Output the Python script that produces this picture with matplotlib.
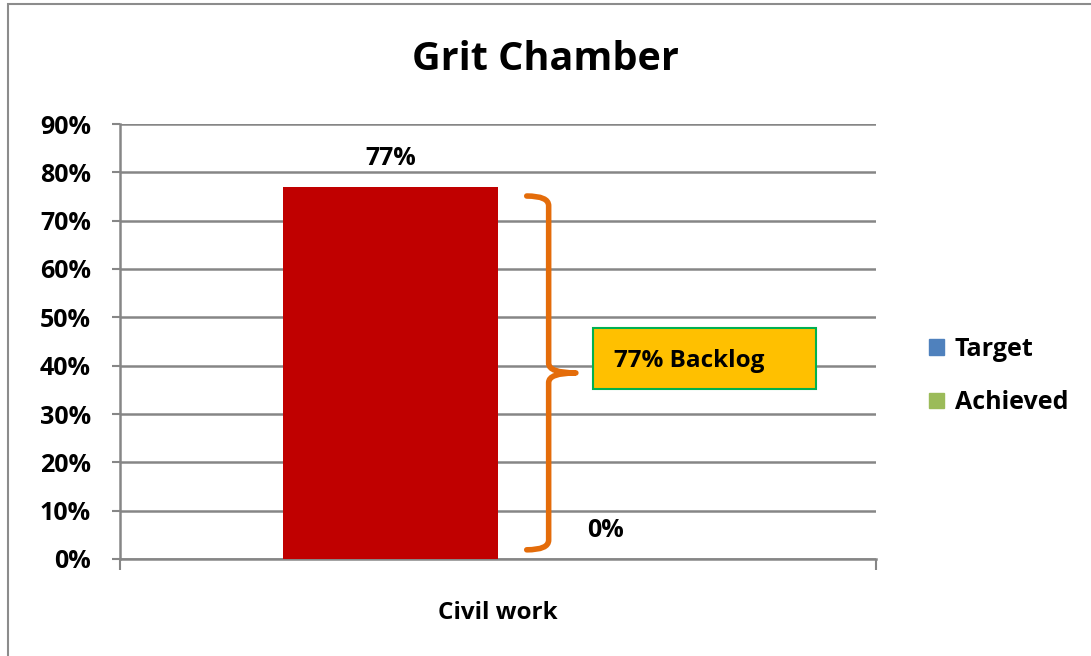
import numpy as np
import matplotlib.pyplot as plt
from matplotlib.patches import Rectangle, PathPatch
from matplotlib.path import Path

plt.rcParams['font.family'] = ['Open Sans', 'DejaVu Sans']
plt.rcParams['font.weight'] = 'bold'

title = "Grit Chamber"
categories = ["Civil work"]
series_names = ["Target", "Achieved"]
target = [0.77]
achieved = [0.0]
backlog_text = "77% Backlog"

bar_colors = ["#C00000", "#9BBB59"]
legend_colors = ["#4F81BD", "#9BBB59"]
grid_color = "#868686"

fig = plt.figure(figsize=(10.91, 6.56), dpi=100)
ax = fig.add_axes([120 / 1091, 1 - 559 / 656, 756 / 1091, 435 / 656])

# outer chart border
fig.patches.append(Rectangle((8 / 1091, -0.1), 1.2, 1 - 4 / 656 + 0.1, transform=fig.transFigure,
                             fill=False, edgecolor="#8C8C8C", linewidth=1.5))

width = 215 / 756
x = np.arange(len(categories))
b1 = ax.bar(x - width / 2, target, width, color=bar_colors[0], zorder=3)
b2 = ax.bar(x + width / 2, achieved, width, color=bar_colors[1], zorder=3)

for rect, v in zip(list(b1) + list(b2), target + achieved):
    ax.text(rect.get_x() + rect.get_width() / 2, v + 0.033, f"{v:.0%}", ha="center", va="bottom",
            fontsize=18, fontweight="bold", zorder=4)

ax.set_xlim(-0.5, 0.5)
ax.set_ylim(0, 0.9)
yt = np.arange(0, 0.91, 0.1)
ax.set_yticks(yt)
ax.set_yticklabels([f"{t:.0%}" for t in yt], fontsize=18, fontweight="bold")
ax.set_xticks([-0.5, 0.5])
ax.set_xticklabels([])
ax.set_xticks(x, minor=True)
ax.set_xticklabels(categories, minor=True, fontsize=17.5, fontweight="bold")
ax.tick_params(axis="x", which="minor", length=0, pad=30)
ax.tick_params(axis="x", which="major", length=8, width=1.5, color=grid_color)
ax.tick_params(axis="y", length=6, width=1.5, color=grid_color, pad=15)
ax.grid(axis="y", color=grid_color, linewidth=1.8, zorder=0)
for side in ["top", "right"]:
    ax.spines[side].set_visible(False)
for side in ["left", "bottom"]:
    ax.spines[side].set_color(grid_color)
    ax.spines[side].set_linewidth(1.8)

# curly brace spanning the gap between achieved and target
x0 = b1[0].get_x() + b1[0].get_width() + 0.038
xs = x0 + 0.029
tip = xs + 0.036
top = target[0] - 0.019
bot = achieved[0] + 0.019
mid = (top + bot) / 2
r = 0.02
verts = [(x0, top), (xs, top), (xs, top - r), (xs, mid + r), (xs, mid), (tip, mid),
         (xs, mid), (xs, mid - r), (xs, bot + r), (xs, bot), (x0, bot)]
codes = [Path.MOVETO, Path.CURVE3, Path.CURVE3, Path.LINETO, Path.CURVE3, Path.CURVE3,
         Path.CURVE3, Path.CURVE3, Path.LINETO, Path.CURVE3, Path.CURVE3]
ax.add_patch(PathPatch(Path(verts, codes), fill=False, edgecolor="#E46C0A", linewidth=4,
                       capstyle="round", joinstyle="round", zorder=5, clip_on=False))

# backlog box
box_x0 = (593 - 120) / 756 - 0.5
box_w = (816 - 593) / 756
ax.add_patch(Rectangle((box_x0, 0.9 * (559 - 389) / 435), box_w, 0.9 * (389 - 328) / 435,
                       facecolor="#FFC000", edgecolor="#00B050", linewidth=1.5, zorder=5))
ax.text(box_x0 + 0.028, 0.9 * (559 - 361) / 435, backlog_text, ha="left", va="center",
        fontsize=17.5, fontweight="bold", zorder=6)

# legend
handles = [Rectangle((0, 0), 1, 1, color=c) for c in legend_colors]
fig.legend(handles, series_names, loc="center left", bbox_to_anchor=(906 / 1091, 1 - 376 / 656),
           frameon=False, handlelength=0.6, handleheight=0.6, handletextpad=0.45,
           labelspacing=1.15, prop={"weight": "bold", "size": 18})

fig.text(0.5, 1 - 60 / 656, title, ha="center", va="center", fontsize=28.5, fontweight="bold")

fig.savefig("out.png", dpi=100)
